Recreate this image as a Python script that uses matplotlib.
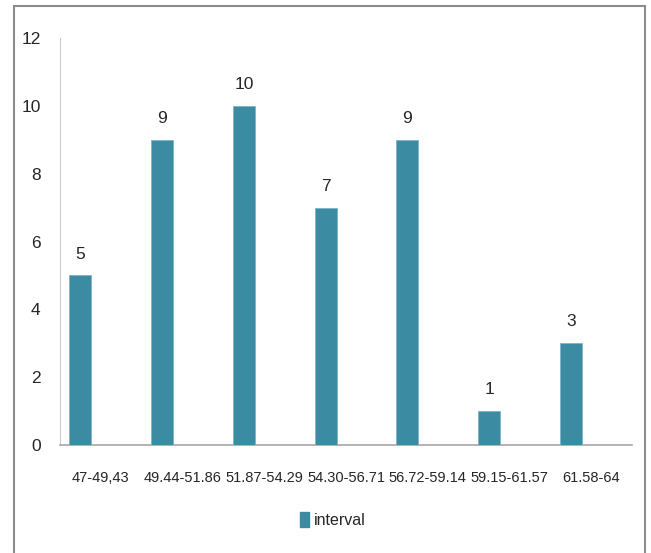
import matplotlib.pyplot as plt
from matplotlib.patches import Rectangle, Patch
import numpy as np

plt.rcParams['font.family'] = ['Liberation Sans', 'DejaVu Sans']

intervals = ['47-49,43', '49.44-51.86', '51.87-54.29', '54.30-56.71',
             '56.72-59.14', '59.15-61.57', '61.58-64']
counts = [5, 9, 10, 7, 9, 1, 3]
y_ticks = [0, 2, 4, 6, 8, 10, 12]

bar_color = '#3b8ba2'
text_color = '#262626'

fig = plt.figure(figsize=(6.51, 5.53), dpi=100)
W, H = 651, 553
ax = fig.add_axes([60 / W, (H - 445) / H, 572 / W, (445 - 38) / H])

x = np.arange(len(intervals))
ax.bar(x - 0.25, counts, width=0.27, color=bar_color, edgecolor='#7fb4c6',
       linewidth=0.6, zorder=3)

for xi, c in zip(x, counts):
    ax.annotate(str(c), (xi - 0.25, c), xytext=(0, 10), textcoords='offset points',
                ha='center', va='bottom', fontsize=12.5, color=text_color)

ax.set_xlim(-0.5, len(intervals) - 0.5)
ax.set_ylim(0, 12)
ax.set_yticks(y_ticks)
ax.set_xticks(x)
ax.set_xticklabels(intervals, fontsize=10.5)
ax.tick_params(axis='both', length=0, colors=text_color)
ax.tick_params(axis='y', pad=14, labelsize=12.5)
ax.tick_params(axis='x', pad=19)

for s in ['top', 'right']:
    ax.spines[s].set_visible(False)
ax.spines['left'].set_color('#cccccc')
ax.spines['bottom'].set_color('#a6a6a6')
ax.spines['bottom'].set_linewidth(1.2)

handle = Patch(facecolor=bar_color, edgecolor=bar_color)
fig.legend([handle], ['interval'], loc='center', bbox_to_anchor=(333 / W, 1 - 520 / H),
           frameon=False, fontsize=11.5, handlelength=0.55, handleheight=1.1,
           handletextpad=0.3, labelcolor=text_color)

fig.patches.append(Rectangle((14 / W, -0.02), (645 - 14) / W, 1 - 6 / H + 0.02,
                             transform=fig.transFigure, fill=False,
                             edgecolor='#8c8c8c', linewidth=1.5))

fig.savefig('out.png', dpi=100)
